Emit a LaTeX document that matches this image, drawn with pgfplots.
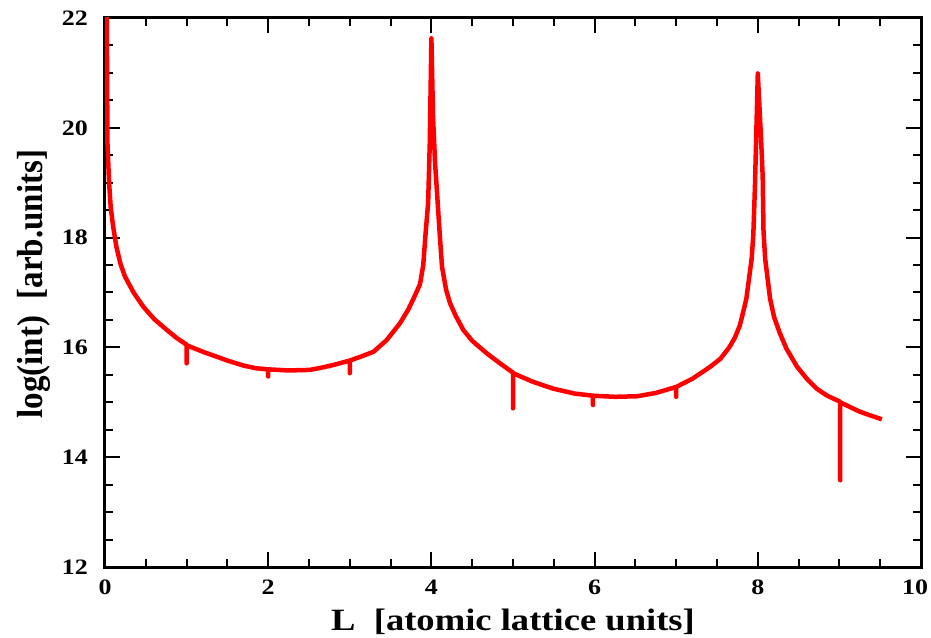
\documentclass[border=0pt]{standalone}
\usepackage{pgfplots}
\pgfplotsset{compat=1.18}
\usepackage{fontspec}
\setmainfont{Liberation Serif}
\newfontfamily\wide{Liberation Serif}[FakeStretch=1.18]
\begin{document}
\begin{tikzpicture}
\begin{axis}[
  scale only axis,
  width=816pt, height=549pt,
  xmin=0, xmax=10, ymin=12, ymax=22,
  xtick={0,2,4,6,8,10},
  xticklabels={0,2,4,6,8,\makebox[0pt][r]{10\hspace{-7pt}}},
  ytick={12,14,16,18,20,22},
  minor x tick num=3, minor y tick num=3,
  tick align=inside,
  major tick length=15pt, minor tick length=8pt,
  every tick/.style={black, line width=2pt},
  axis line style={black, line width=3pt},
  /pgf/number format/assume math mode=true,
  xticklabel style={font=\wide\bfseries\fontsize{22}{22}\selectfont, inner sep=0pt, yshift=-13pt},
  yticklabel style={font=\wide\bfseries\fontsize{22}{22}\selectfont, inner sep=0pt, xshift=-17pt},
  xlabel={L\ \ [atomic lattice units]},
  xlabel style={font=\wide\bfseries\fontsize{31}{31}\selectfont, at={(axis description cs:0.5,-0.1165)}, anchor=base, inner sep=0pt},
  ylabel={\scalebox{1}[1.1]{log(int)\ \ [arb.units]}},
  ylabel style={font=\bfseries\fontsize{33}{33}\selectfont, at={(axis description cs:-0.0772,0.515)}, anchor=base, inner sep=0pt},
]
\addplot[red, line width=4.5pt, line join=round] coordinates {
(0.02,22.6) (0.03,19.72) (0.05,19.0) (0.07,18.55) (0.10,18.2) (0.14,17.83)
(0.19,17.52) (0.245,17.29) (0.35,17.0) (0.47,16.74) (0.6,16.52) (0.756,16.32)
(0.88,16.17) (1.0,16.05) (1.0,15.71) (1.0,16.04) (1.2,15.92) (1.37,15.83)
(1.5,15.76) (1.695,15.67) (1.85,15.62) (2.0,15.60) (2.0,15.47) (2.0,15.60)
(2.25,15.58) (2.51,15.59) (2.65,15.63) (2.8,15.68) (3.0,15.76) (3.0,15.53)
(3.0,15.76) (3.15,15.84) (3.29,15.92) (3.45,16.13) (3.615,16.44) (3.72,16.70)
(3.80,16.95) (3.86,17.15) (3.90,17.50) (3.93,18.10) (3.96,18.63) (3.98,19.72) (4.0,21.63)
(4.02,20.2) (4.045,19.36) (4.085,18.45) (4.105,18.0) (4.13,17.47) (4.18,17.05)
(4.23,16.80) (4.3,16.57) (4.39,16.32) (4.5,16.12) (4.68,15.89) (4.85,15.70)
(5.0,15.54) (5.0,14.89) (5.0,15.53) (5.25,15.37) (5.49,15.25) (5.75,15.16)
(5.98,15.12) (5.98,14.95) (5.98,15.12) (6.25,15.10) (6.52,15.11) (6.75,15.17)
(7.0,15.28) (7.0,15.10) (7.0,15.28) (7.2,15.43) (7.41,15.64) (7.54,15.79)
(7.65,16.0) (7.72,16.18) (7.78,16.40) (7.83,16.70) (7.86,16.89) (7.925,17.62)
(7.945,18.05) (7.965,18.93) (8.0,20.99) (8.04,19.8) (8.06,19.11) (8.07,18.11)
(8.09,17.62) (8.15,16.89) (8.2,16.55) (8.27,16.26) (8.35,15.98) (8.48,15.65)
(8.6,15.43) (8.72,15.25) (8.85,15.12) (9.01,15.01) (9.01,13.58) (9.01,15.0)
(9.12,14.92) (9.25,14.83) (9.38,14.76) (9.52,14.69)
};
\end{axis}
\path[draw=none] ([shift={(-105pt,-70pt)}]current axis.south west) rectangle ([shift={(10pt,18pt)}]current axis.north east);
\end{tikzpicture}
\end{document}
